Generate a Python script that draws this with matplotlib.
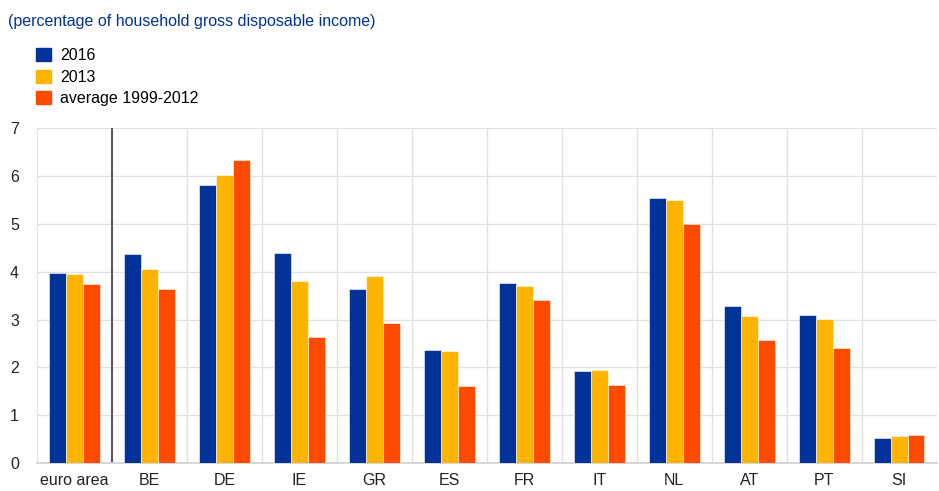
import matplotlib
matplotlib.use('Agg')
import matplotlib.pyplot as plt
import matplotlib.patches as patches
import numpy as np

plt.rcParams['font.family'] = ['Liberation Sans', 'DejaVu Sans']

countries = ['euro area', 'BE', 'DE', 'IE', 'GR', 'ES', 'FR', 'IT', 'NL', 'AT', 'PT', 'SI']
v2016 = [3.98, 4.37, 5.81, 4.39, 3.63, 2.37, 3.77, 1.92, 5.53, 3.29, 3.09, 0.53]
v2013 = [3.96, 4.05, 6.02, 3.80, 3.90, 2.35, 3.70, 1.95, 5.49, 3.07, 3.01, 0.57]
vavg = [3.75, 3.64, 6.33, 2.63, 2.93, 1.61, 3.40, 1.64, 4.99, 2.57, 2.41, 0.58]
series_labels = ['2016', '2013', 'average 1999-2012']
colors = ['#003299', '#FFB400', '#FF4B00']

fig = plt.figure(figsize=(9.39, 4.91), dpi=100)
ax = fig.add_axes([0.0394, 0.057, 0.958, 0.682])

x = np.arange(len(countries))
w = 0.226
for i, (vals, c, lab) in enumerate(zip([v2016, v2013, vavg], colors, series_labels)):
    ax.bar(x + (i - 1) * w, vals, width=w, color=c, label=lab,
           edgecolor='white', linewidth=0.4, zorder=3)

ax.set_xlim(-0.5, len(countries) - 0.5)
ax.set_ylim(0, 7)
ax.set_yticks(range(0, 8))
ax.set_xticks(x)
ax.set_xticklabels(countries)

# grid
for k in range(1, 8):
    ax.axhline(k, color='#e1e1e1', lw=1, zorder=1)
for b in np.arange(-0.5, len(countries) + 0.5, 1):
    ax.axvline(b, color='#e1e1e1', lw=1, zorder=1)
ax.axvline(0.5, color='#5a5a5a', lw=1.5, zorder=2)

for s in ['top', 'right', 'left']:
    ax.spines[s].set_visible(False)
ax.spines['bottom'].set_color('#d0d0d0')
ax.spines['bottom'].set_linewidth(1.2)
ax.tick_params(length=0, labelsize=11.5, colors='#222222', pad=7)
ax.tick_params(axis='y', pad=13)

fig.text(0.0085, 0.957, '(percentage of household gross disposable income)',
         color='#003299', fontsize=11.5, ha='left', va='center')

handles = [patches.Patch(color=c) for c in colors]
fig.legend(handles, series_labels, loc='upper left', bbox_to_anchor=(0.032, 0.915),
           frameon=False, fontsize=11.5, handlelength=0.9, handleheight=0.9,
           handletextpad=0.6, labelspacing=0.4, borderaxespad=0)

fig.savefig('out.png', dpi=100)
